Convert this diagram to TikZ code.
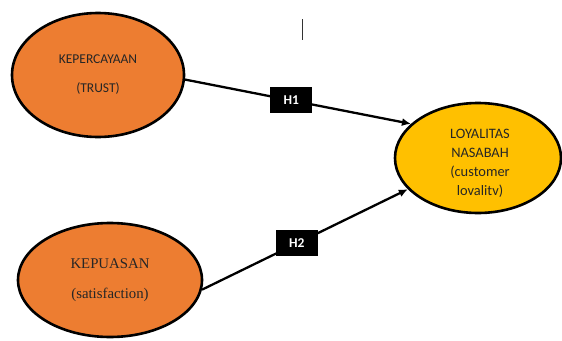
\documentclass[tikz,border=0pt]{standalone}
\usepackage{fontspec}
\setmainfont{Carlito}
\newfontfamily\serifx{Liberation Serif}
\usetikzlibrary{shapes.geometric,arrows.meta}
\definecolor{orng}{HTML}{ED7D31}
\definecolor{yell}{HTML}{FFC000}
\begin{document}
\begin{tikzpicture}[x=1pt,y=-1pt,
  ell/.style={ellipse,draw=black,line width=2.6pt,inner sep=0pt,align=center,text=black!85},
  conn/.style={line width=2.3pt,-{Latex[length=9pt,width=8pt]}},
  hbox/.style={fill=black,text=white,font=\bfseries\fontsize{13.5}{15}\selectfont,minimum width=42pt,minimum height=26pt,inner sep=0pt}]
\useasboundingbox (0,0) rectangle (562,340);
\node[ell,fill=orng,minimum width=172pt,minimum height=124pt,font=\fontsize{13.5}{16}\selectfont] (t) at (98,75) {KEPERCAYAAN\\[13pt](TRUST)};
\node[ell,fill=orng,minimum width=184pt,minimum height=114pt,font=\serifx\fontsize{14.8}{17}\selectfont] (b) at (110,280) {KEPUASAN\\[13pt](satisfaction)};
\node[ell,fill=yell,minimum width=166pt,minimum height=110pt] (r) at (478,158) {};
\node[align=center,text=black!85,font=\fontsize{14.4}{19}\selectfont,inner sep=0pt] (rt) at (480,163) {LOYALITAS\\NASABAH\\(customer\\lovalitv)};
\draw[conn] (t.-3) -- node[hbox,pos=0.47] (h1) {H1} (r.153);
\draw[conn] (b.-6) -- node[hbox,pos=0.46] (h2) {H2} (r.204);
\coordinate (c1) at (302,19);
\coordinate (c2) at (302,40);
\draw[line width=1pt,black!80] (c1) -- (c2);
\end{tikzpicture}
\end{document}
